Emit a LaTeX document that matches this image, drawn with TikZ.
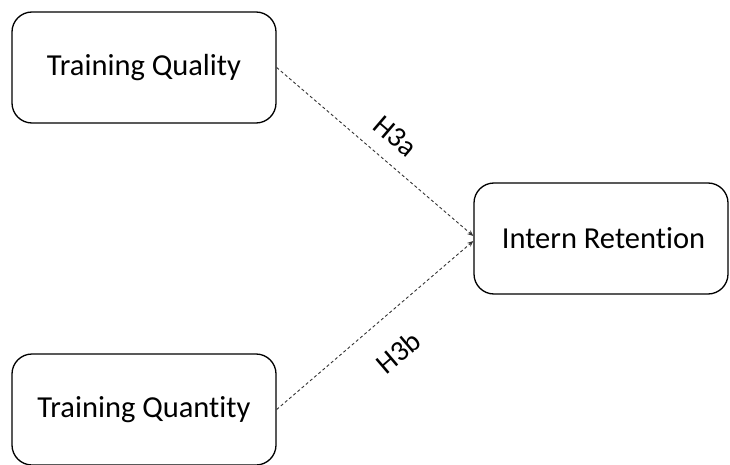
\documentclass[tikz,border=0pt]{standalone}
\usepackage{fontspec}
\setmainfont{Carlito}[RawFeature={-liga}]
\usetikzlibrary{arrows.meta}
\tikzset{
  box/.style={draw=black, line width=1.3pt, rounded corners=20pt, minimum width=264pt, minimum height=111pt, inner sep=0pt, font=\fontsize{30.5}{36}\selectfont},
  hyp/.style={draw=black!80, line width=0.9pt, dash pattern=on 3pt off 2.5pt, -{Stealth[length=6pt,width=5pt]}},
  hlab/.style={sloped, inner sep=0pt, font=\fontsize{29}{34}\selectfont}
}
\begin{document}
\begin{tikzpicture}[x=1pt,y=1pt]
\useasboundingbox (0,0) rectangle (730,464);
\clip (0,0) rectangle (730,464);
\node[box] (tq) at (144,396.5) {Training Quality};
\node[box, minimum width=254pt] (ir) at (601,225.5) {\hspace*{5pt}Intern Retention};
\node[box] (tqn) at (144,54.5) {Training Quantity};
\draw[hyp] (tq.east) -- ([yshift=2.5pt]ir.west) node[hlab, pos=0.52, above=15pt] {H3a};
\draw[hyp] (tqn.east) -- ([yshift=-2.5pt]ir.west) node[hlab, pos=0.5, below=25pt] {H3b};
\end{tikzpicture}
\end{document}
